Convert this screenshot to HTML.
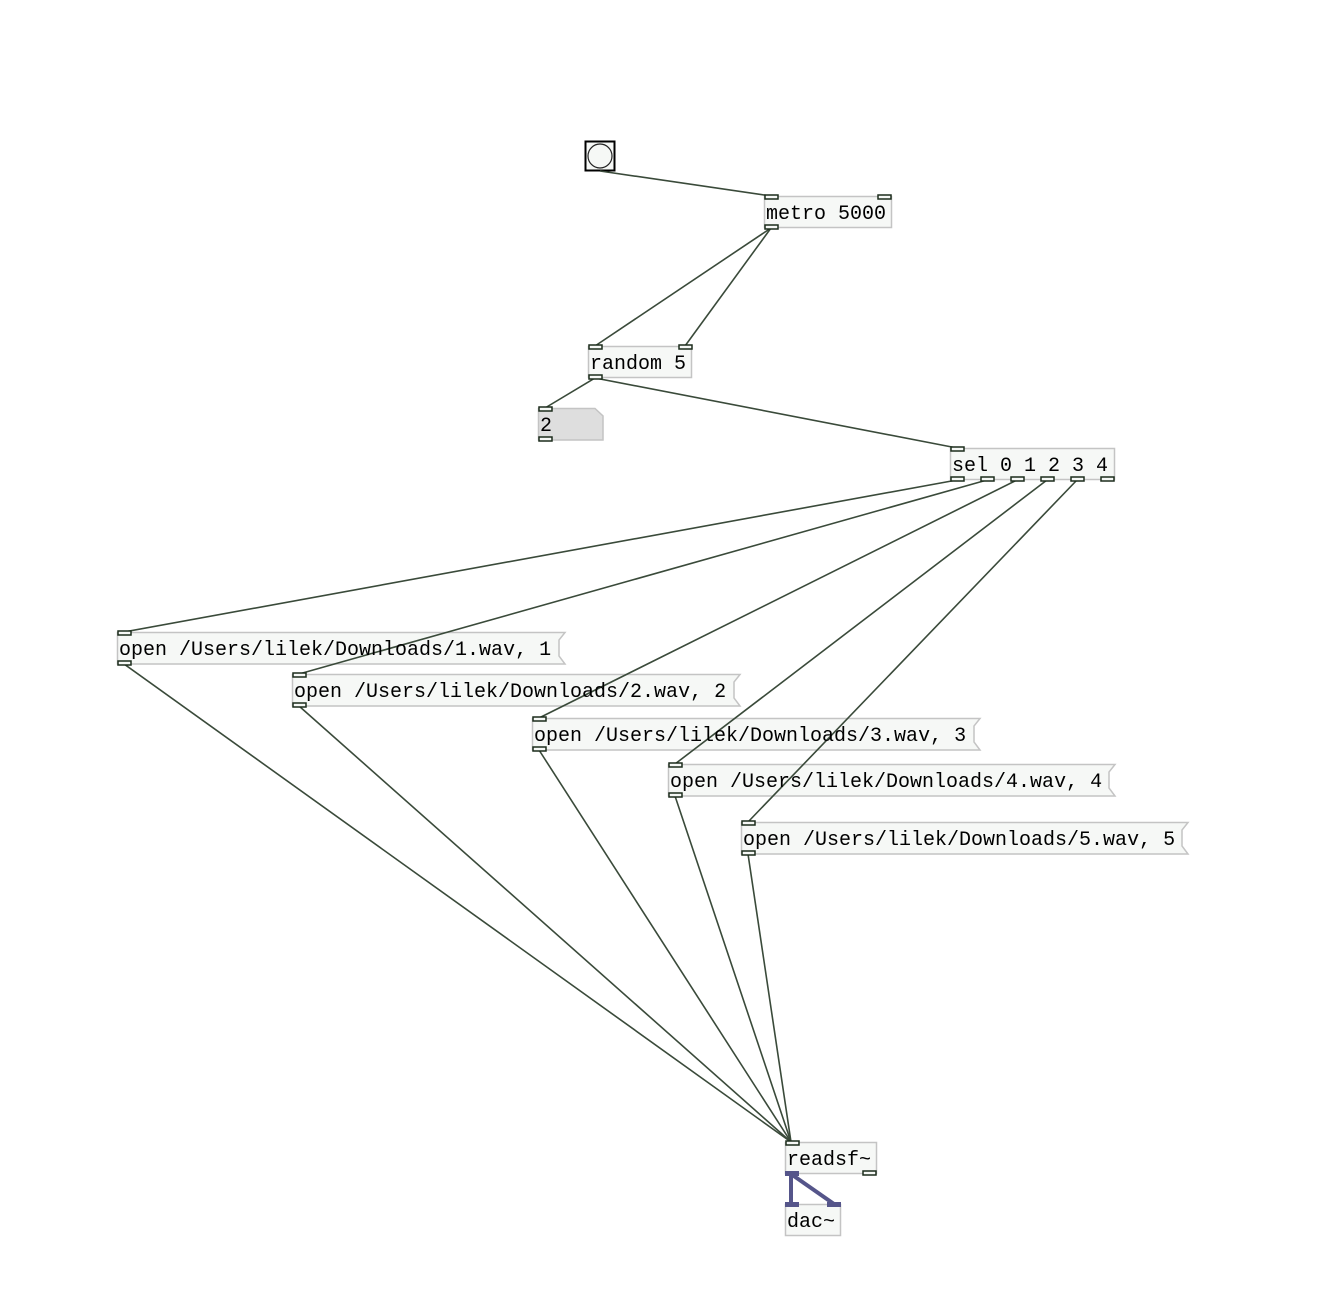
<!DOCTYPE html>
<html><head><meta charset="utf-8"><style>
html,body{margin:0;padding:0;background:#fff;}
svg{display:block;}
text{font-family:"Liberation Mono","DejaVu Sans Mono",monospace;font-size:20px;fill:#000;}
</style></head><body>
<svg width="1344" height="1304" viewBox="0 0 1344 1304" xmlns="http://www.w3.org/2000/svg">
<!-- bang -->
<rect x="585.5" y="141.5" width="29" height="29" fill="#f6f8f6" stroke="#000" stroke-width="2"/>
<circle cx="600" cy="156" r="12" fill="#f6f8f6" stroke="#222" stroke-width="1.2"/>
<!-- boxes -->
<g fill="#f6f8f6" stroke="#c4c4c4" stroke-width="1.5">
<rect x="764.5" y="196.5" width="127" height="31"/>
<rect x="588.5" y="346.5" width="103" height="31"/>
<rect x="950.5" y="448.5" width="164" height="31"/>
<rect x="785.5" y="1142.5" width="91" height="31"/>
<rect x="785.5" y="1204.5" width="55" height="31"/>
<path d="M117.5 632.5 H565 L559 640 V656 L565 664 H117.5 Z"/>
<path d="M292.5 674.5 H740 L734 682 V698 L740 706 H292.5 Z"/>
<path d="M532.5 718.5 H980 L974 726 V742 L980 750 H532.5 Z"/>
<path d="M668.5 764.5 H1115 L1109 772 V788 L1115 796 H668.5 Z"/>
<path d="M741.5 822.5 H1188 L1182 830 V846 L1188 854 H741.5 Z"/>
</g>
<path d="M538.5 408.5 H595 L603 416 V440 H538.5 Z" fill="#dedede" stroke="#c4c4c4" stroke-width="1.5"/>
<g stroke="#3a4a3a" stroke-width="1.6" fill="none">
<line x1="600" y1="171" x2="771" y2="196"/>
<line x1="771" y1="228" x2="595" y2="346"/>
<line x1="771" y1="228" x2="685" y2="346"/>
<line x1="595" y1="378" x2="545" y2="408"/>
<line x1="595" y1="378" x2="957" y2="448"/>
<line x1="957" y1="480" x2="124" y2="632"/>
<line x1="987" y1="480" x2="299" y2="674"/>
<line x1="1017" y1="480" x2="539" y2="718"/>
<line x1="1047" y1="480" x2="675" y2="764"/>
<line x1="1077" y1="480" x2="748" y2="822"/>
<line x1="124" y1="664" x2="791" y2="1142"/>
<line x1="299" y1="706" x2="791" y2="1142"/>
<line x1="539" y1="750" x2="791" y2="1142"/>
<line x1="675" y1="796" x2="791" y2="1142"/>
<line x1="748" y1="854" x2="791" y2="1142"/>
</g>
<g stroke="#55558a" stroke-width="4" fill="none">
<line x1="791" y1="1174" x2="791" y2="1204"/>
<line x1="791" y1="1174" x2="834" y2="1204"/>
</g>
<!-- ports -->
<g fill="#f6f8f6" stroke="#1c2c1c" stroke-width="1.5">
<rect x="765" y="195" width="13" height="4"/><rect x="878" y="195" width="13" height="4"/><rect x="765" y="225" width="13" height="4"/>
<rect x="589" y="345" width="13" height="4"/><rect x="679" y="345" width="13" height="4"/><rect x="589" y="375" width="13" height="4"/>
<rect x="539" y="407" width="13" height="4"/><rect x="539" y="437" width="13" height="4"/>
<rect x="951" y="447" width="13" height="4"/>
<rect x="951" y="477" width="13" height="4"/><rect x="981" y="477" width="13" height="4"/><rect x="1011" y="477" width="13" height="4"/><rect x="1041" y="477" width="13" height="4"/><rect x="1071" y="477" width="13" height="4"/><rect x="1101" y="477" width="13" height="4"/>
<rect x="118" y="631" width="13" height="4"/><rect x="118" y="661" width="13" height="4"/>
<rect x="293" y="673" width="13" height="4"/><rect x="293" y="703" width="13" height="4"/>
<rect x="533" y="717" width="13" height="4"/><rect x="533" y="747" width="13" height="4"/>
<rect x="669" y="763" width="13" height="4"/><rect x="669" y="793" width="13" height="4"/>
<rect x="742" y="821" width="13" height="4"/><rect x="742" y="851" width="13" height="4"/>
<rect x="786" y="1141" width="13" height="4"/><rect x="863" y="1171" width="13" height="4"/>
</g>
<g fill="#55558a">
<rect x="785" y="1171" width="14" height="5"/>
<rect x="785" y="1202" width="14" height="5"/><rect x="827" y="1202" width="14" height="5"/>
</g>
<text x="766" y="219">metro 5000</text>
<text x="590" y="369">random 5</text>
<text x="540" y="431">2</text>
<text x="952" y="471">sel 0 1 2 3 4</text>
<text x="119" y="655">open /Users/lilek/Downloads/1.wav, 1</text>
<text x="294" y="697">open /Users/lilek/Downloads/2.wav, 2</text>
<text x="534" y="741">open /Users/lilek/Downloads/3.wav, 3</text>
<text x="670" y="787">open /Users/lilek/Downloads/4.wav, 4</text>
<text x="743" y="845">open /Users/lilek/Downloads/5.wav, 5</text>
<text x="787" y="1165">readsf~</text>
<text x="787" y="1227">dac~</text>
</svg>
</body></html>
